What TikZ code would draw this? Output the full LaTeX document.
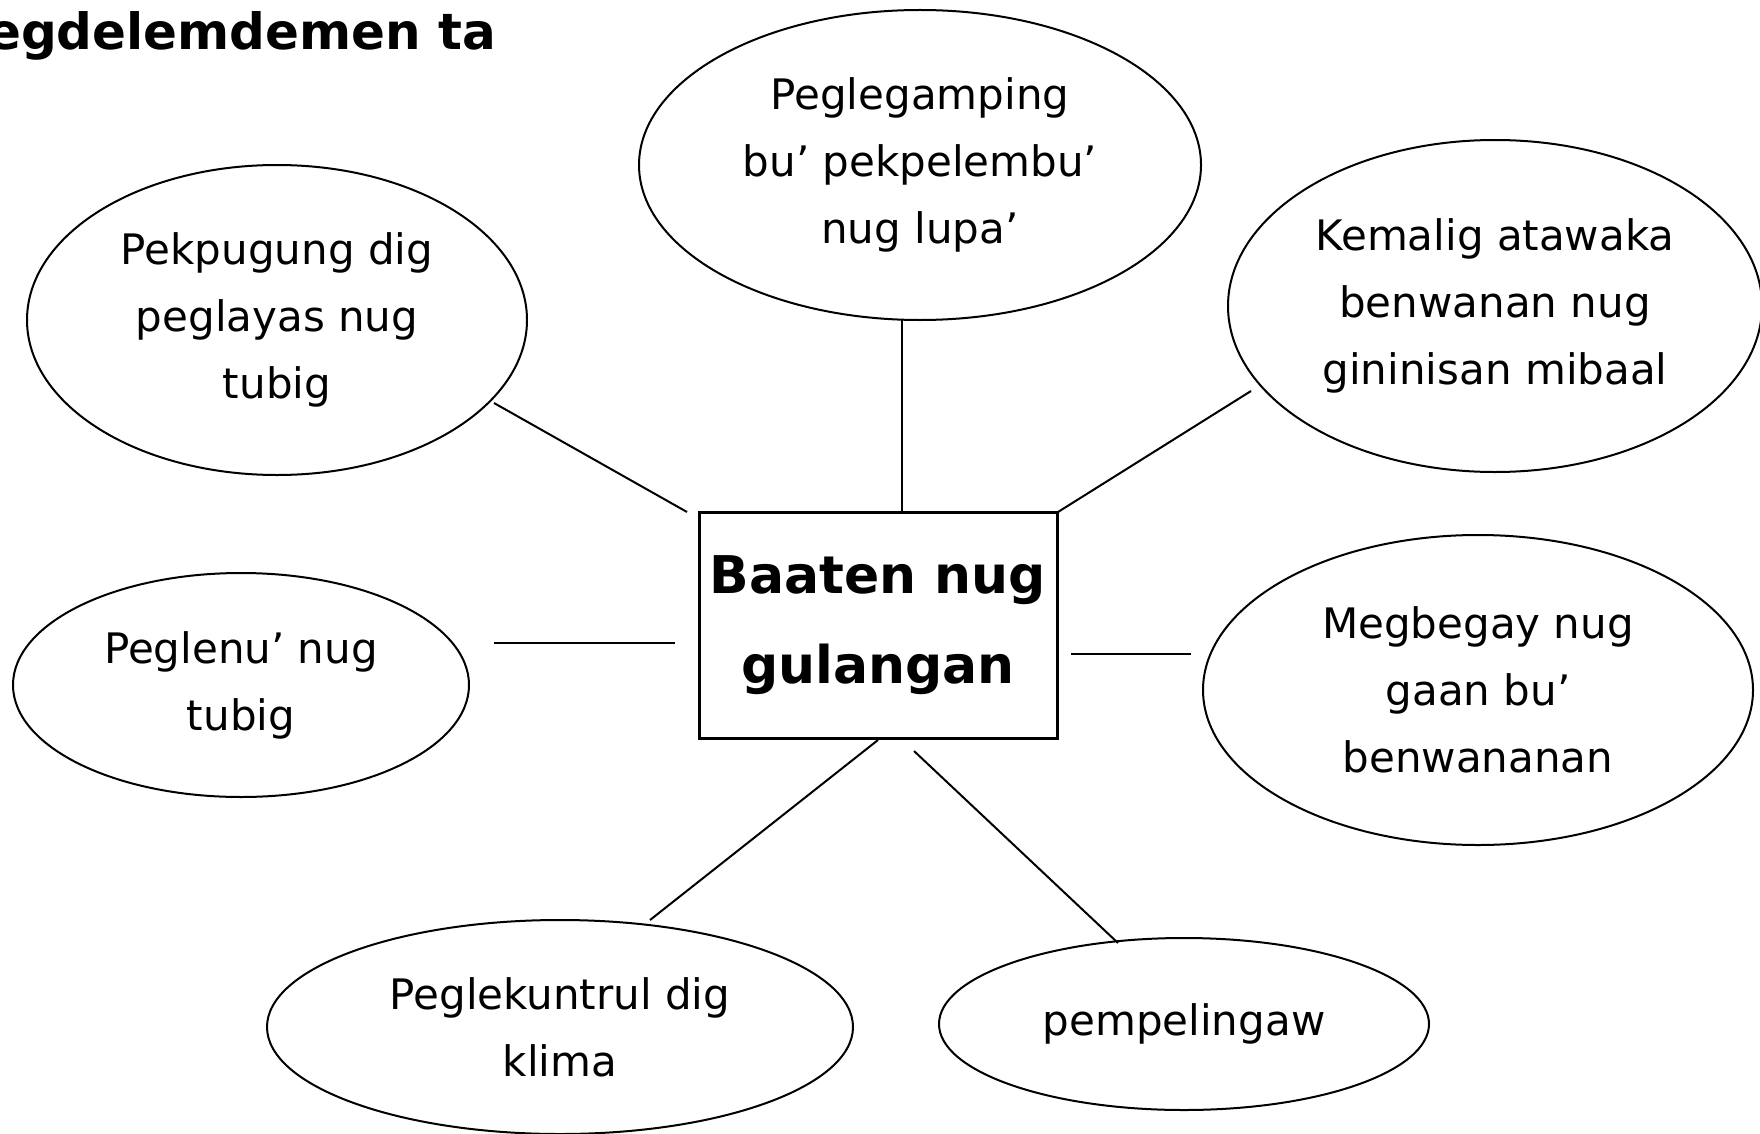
\documentclass[tikz,border=0pt]{standalone}
\usepackage{fontspec}
\setmainfont{DejaVu Sans}
\usetikzlibrary{shapes.geometric}

\tikzset{
  bubble/.style={ellipse, draw, line width=2pt, inner sep=0pt, align=center,
    font=\fontsize{42}{67}\selectfont},
  hub/.style={rectangle, draw, line width=3pt, inner sep=0pt, align=center,
    minimum width=358pt, minimum height=226pt,
    font=\fontsize{52}{90}\bfseries\selectfont},
  spoke/.style={line width=2pt}
}

\begin{document}
\begin{tikzpicture}[x=1pt, y=-1pt]

    % --- 画布 ---
    \useasboundingbox (0,0) rectangle (1760,1134);

    % --- 标题 ---
    \node[anchor=base west, inner sep=0pt, font=\fontsize{50}{60}\bfseries\selectfont]
        (title) at (-13,50) {egdelemdemen ta};

    % --- 中心框 ---
    \node[hub] (hub) at (878,625) {Baaten nug\\gulangan};

    % --- 周围的椭圆 ---
    \node[bubble, minimum width=562pt, minimum height=310pt] (top) at (920,165)
        {Peglegamping\\bu’ pekpelembu’\\nug lupa’};
    \node[bubble, minimum width=500pt, minimum height=310pt] (tl) at (277,320)
        {Pekpugung dig\\peglayas nug\\tubig};
    \node[bubble, minimum width=534pt, minimum height=332pt] (tr) at (1495,306)
        {Kemalig atawaka\\benwanan nug\\gininisan mibaal};
    \node[bubble, minimum width=456pt, minimum height=224pt] (ml) at (241,685)
        {Peglenu’ nug\\tubig};
    \node[bubble, minimum width=550pt, minimum height=310pt] (mr) at (1478,690)
        {Megbegay nug\\gaan bu’\\benwananan};
    \node[bubble, minimum width=586pt, minimum height=214pt] (bl) at (560,1027)
        {Peglekuntrul dig\\klima};
    \node[bubble, minimum width=490pt, minimum height=172pt] (br) at (1184,1024)
        {pempelingaw};

    % --- 连线端点 ---
    \coordinate (tl-a) at (494,403);  \coordinate (tl-b) at (687,512);
    \coordinate (top-a) at (902,319); \coordinate (top-b) at (902,512);
    \coordinate (tr-a) at (1251,391); \coordinate (tr-b) at (1058,512);
    \coordinate (ml-a) at (494,643);  \coordinate (ml-b) at (675,643);
    \coordinate (mr-a) at (1191,654); \coordinate (mr-b) at (1071,654);
    \coordinate (bl-a) at (650,920);  \coordinate (bl-b) at (878,740);
    \coordinate (br-a) at (1118,943); \coordinate (br-b) at (914,751);

    % --- 连线 ---
    \foreach \n in {tl,top,tr,ml,mr,bl,br}
        \draw[spoke] (\n-a) -- (\n-b);

\end{tikzpicture}
\end{document}
